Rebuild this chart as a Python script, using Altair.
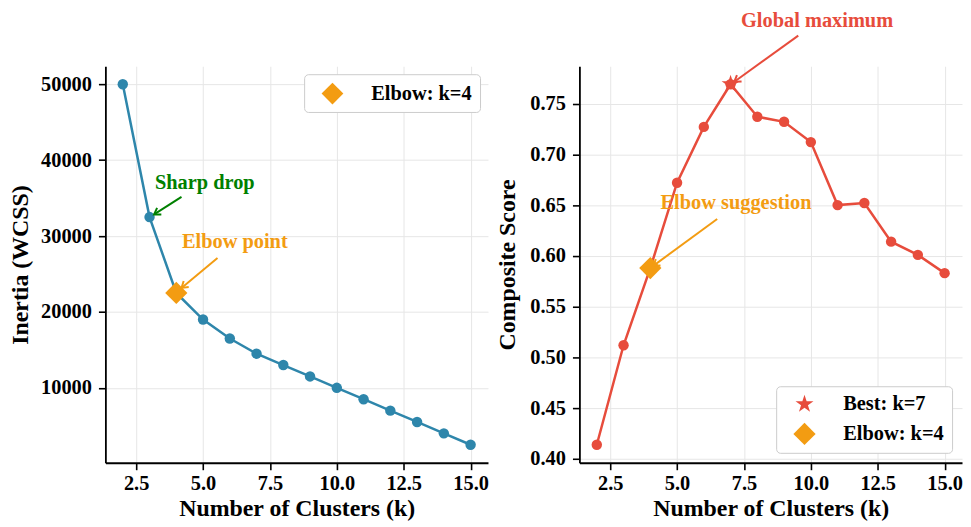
import math
import altair as alt
import pandas as pd

# ---------------- data ----------------
k_values = list(range(2, 16))
inertia = [50000, 32500, 22500, 19000, 16500, 14500, 13000, 11500, 10000, 8500, 7000, 5500, 4000, 2500]
composite = [0.414, 0.512, 0.588, 0.672, 0.727, 0.769, 0.737, 0.732, 0.712, 0.650, 0.652, 0.614, 0.601, 0.583]

elbow_k = 4
best_k = 7

x_ticks = [2.5, 5.0, 7.5, 10.0, 12.5, 15.0]
inertia_ticks = [10000, 20000, 30000, 40000, 50000]
score_ticks = [0.40, 0.45, 0.50, 0.55, 0.60, 0.65, 0.70, 0.75]

x_domain = [1.35, 15.65]
inertia_domain = [125, 52375]
score_domain = [0.3963, 0.7867]

left_note_text = ["Sharp drop", "Elbow point"]
left_note_x = [3.20, 4.21]
left_note_y = [36257, 28403]
left_arrow_x = [4.195, 5.54]
left_arrow_y = [35157, 27094]
left_arrow_x2 = [3.17, 4.195]
left_arrow_y2 = [32853, 23168]

right_note_text = ["Global maximum", "Elbow suggestion"]
right_note_x = [7.39, 4.38]
right_note_y = [0.8257, 0.6464]
right_arrow_x = [9.53, 6.50]
right_arrow_y = [0.8169, 0.6363]
right_arrow_x2 = [7.14, 4.11]
right_arrow_y2 = [0.7714, 0.5902]

BLUE = "#2E86AB"
RED = "#E74C3C"
ORANGE = "#F39C12"
GREEN = "#008000"
left_note_colors = [GREEN, ORANGE]
right_note_colors = [RED, ORANGE]

FONT = "Liberation Serif"
W, H = 385, 399
ARROW_PATH = "M-1,-0.65L0,0L-1,0.65"


def star_path():
    pts = []
    for i in range(10):
        r = 1.0 if i % 2 == 0 else 0.382
        a = math.radians(-90 + 36 * i)
        pts.append(f"{r * math.cos(a):.3f},{r * math.sin(a):.3f}")
    return "M" + "L".join(pts) + "Z"


STAR_PATH = star_path()


def arrow_df(xs, ys, x2s, y2s, colors, ydom):
    sx = W / (x_domain[1] - x_domain[0])
    sy = H / (ydom[1] - ydom[0])
    rows = []
    for x, y, x2, y2, c in zip(xs, ys, x2s, y2s, colors):
        dx = (x2 - x) * sx
        dy = -(y2 - y) * sy
        ang = math.degrees(math.atan2(dy, dx)) % 360
        rows.append({"k": x, "v": y, "k2": x2, "v2": y2, "color": c, "angle": ang})
    return pd.DataFrame(rows)


def legend(orient, offset):
    return alt.Legend(
        title=None, orient=orient, offset=offset, padding=7.5,
        fillColor="white", strokeColor="#cccccc", cornerRadius=4,
        labelFont=FONT, labelFontSize=20.5, labelFontWeight="bold", labelColor="black",
        symbolSize=480, symbolOffset=9, labelOffset=27, rowPadding=7.5,
    )


def xenc(field="k"):
    return alt.X(f"{field}:Q", title="Number of Clusters (k)",
                 scale=alt.Scale(domain=x_domain, nice=False, zero=False),
                 axis=alt.Axis(values=x_ticks, format=".1f", labelPadding=4, titlePadding=3))


def ylenc(field="v"):
    return alt.Y(f"{field}:Q", title="Inertia (WCSS)",
                 scale=alt.Scale(domain=inertia_domain, nice=False, zero=False),
                 axis=alt.Axis(values=inertia_ticks, format="d", labelPadding=7, titlePadding=8))


def yrenc(field="v"):
    return alt.Y(f"{field}:Q", title="Composite Score",
                 scale=alt.Scale(domain=score_domain, nice=False, zero=False),
                 axis=alt.Axis(values=score_ticks, format=".2f", labelPadding=7, titlePadding=10))


# ---------------- left panel ----------------
df_left = pd.DataFrame({"k": k_values, "v": inertia})
l_line = alt.Chart(df_left).mark_line(color=BLUE, strokeWidth=2.5).encode(x=xenc(), y=ylenc())
l_pts = alt.Chart(df_left).mark_circle(color=BLUE, size=110, opacity=1).encode(x=xenc(), y=ylenc())

l_label = f"Elbow: k={elbow_k}"
df_lmark = pd.DataFrame({"k": [elbow_k], "v": [inertia[k_values.index(elbow_k)]], "label_l": [l_label]})
l_mark = alt.Chart(df_lmark).mark_point(filled=True, opacity=1, size=500).encode(
    x=xenc(), y=ylenc(),
    color=alt.Color("label_l:N", scale=alt.Scale(domain=[l_label], range=[ORANGE]),
                    legend=legend("top-right", 8)),
    shape=alt.Shape("label_l:N", scale=alt.Scale(domain=[l_label], range=["diamond"]),
                    legend=legend("top-right", 8)),
)

df_lnotes = pd.DataFrame({"k": left_note_x, "v": left_note_y, "t": left_note_text, "color": left_note_colors})
l_text = alt.Chart(df_lnotes).mark_text(align="left", baseline="alphabetic", font=FONT,
                                         fontSize=20.5, fontWeight="bold").encode(
    x=xenc(), y=ylenc(), text="t:N", color=alt.Color("color:N", scale=None))

df_larr = arrow_df(left_arrow_x, left_arrow_y, left_arrow_x2, left_arrow_y2, left_note_colors, inertia_domain)
l_rule = alt.Chart(df_larr).mark_rule(strokeWidth=2).encode(
    x=xenc(), y=ylenc(), x2="k2:Q", y2="v2:Q", color=alt.Color("color:N", scale=None))
l_head = alt.Chart(df_larr).mark_point(shape=ARROW_PATH, filled=False, strokeWidth=2, size=150,
                                        opacity=1).encode(
    x=xenc("k2"), y=ylenc("v2"), angle=alt.Angle("angle:Q", scale=None), color=alt.Color("color:N", scale=None))

left = alt.layer(l_line, l_pts, l_mark, l_rule, l_head, l_text).properties(width=W, height=H)

# ---------------- right panel ----------------
df_right = pd.DataFrame({"k": k_values, "v": composite})
r_line = alt.Chart(df_right).mark_line(color=RED, strokeWidth=2.5).encode(x=xenc(), y=yrenc())
r_pts = alt.Chart(df_right).mark_circle(color=RED, size=110, opacity=1).encode(x=xenc(), y=yrenc())

r_labels = [f"Best: k={best_k}", f"Elbow: k={elbow_k}"]
df_rmark = pd.DataFrame({"k": [best_k, elbow_k],
                         "v": [composite[k_values.index(best_k)], composite[k_values.index(elbow_k)]],
                         "label_r": r_labels})
r_mark = alt.Chart(df_rmark).mark_point(filled=True, opacity=1).encode(
    x=xenc(), y=yrenc(),
    color=alt.Color("label_r:N", scale=alt.Scale(domain=r_labels, range=[RED, ORANGE]),
                    legend=legend("bottom-right", 10)),
    shape=alt.Shape("label_r:N", scale=alt.Scale(domain=r_labels, range=[STAR_PATH, "diamond"]),
                    legend=legend("bottom-right", 10)),
    size=alt.Size("label_r:N", scale=alt.Scale(domain=r_labels, range=[360, 500]), legend=None),
)

df_rnotes = pd.DataFrame({"k": right_note_x, "v": right_note_y, "t": right_note_text, "color": right_note_colors})
r_text = alt.Chart(df_rnotes).mark_text(align="left", baseline="alphabetic", font=FONT,
                                         fontSize=20.5, fontWeight="bold").encode(
    x=xenc(), y=yrenc(), text="t:N", color=alt.Color("color:N", scale=None))

df_rarr = arrow_df(right_arrow_x, right_arrow_y, right_arrow_x2, right_arrow_y2, right_note_colors, score_domain)
r_rule = alt.Chart(df_rarr).mark_rule(strokeWidth=2).encode(
    x=xenc(), y=yrenc(), x2="k2:Q", y2="v2:Q", color=alt.Color("color:N", scale=None))
r_head = alt.Chart(df_rarr).mark_point(shape=ARROW_PATH, filled=False, strokeWidth=2, size=150,
                                        opacity=1).encode(
    x=xenc("k2"), y=yrenc("v2"), angle=alt.Angle("angle:Q", scale=None), color=alt.Color("color:N", scale=None))

right = alt.layer(r_line, r_pts, r_mark, r_rule, r_head, r_text).properties(width=W, height=H)

chart = alt.hconcat(left, right, spacing=6).resolve_scale(
    color="independent", shape="independent", size="independent"
).properties(
    padding={"left": 0, "top": 0, "right": 0, "bottom": 0}
).configure_view(stroke="transparent").configure_axis(
    labelFont=FONT, labelFontSize=20.5, labelFontWeight="bold", labelColor="black",
    titleFont=FONT, titleFontSize=24, titleFontWeight="bold", titleColor="black",
    domainColor="black", domainWidth=1.8, tickColor="black", tickWidth=1.6, tickSize=7,
    gridColor="#e6e6e6", gridWidth=1,
)

chart.save("out.html", embed_options={"renderer": "svg", "actions": False})
